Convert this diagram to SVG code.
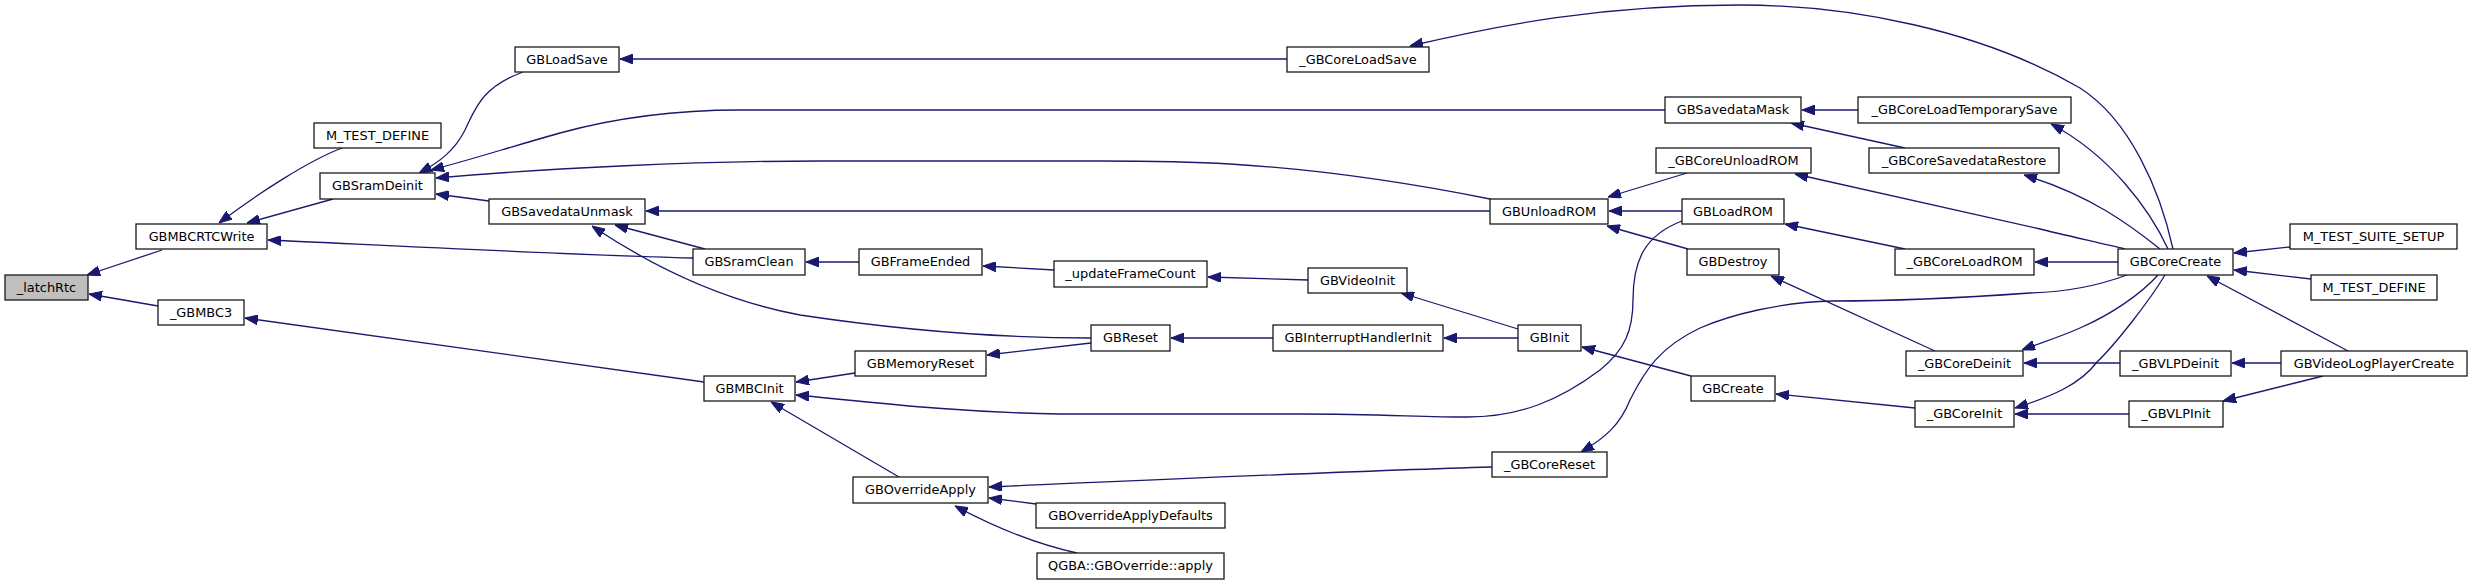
<svg xmlns="http://www.w3.org/2000/svg" width="2472" height="585" viewBox="0 0 2472 585">
<style>
.n rect{fill:#ffffff;stroke:#1a1a1a;stroke-width:1.3}
.n text{font-family:"DejaVu Sans",sans-serif;font-size:12.9px;fill:#000;text-anchor:middle}
#edges path{fill:none;stroke:#191970;stroke-width:1.3;marker-end:url(#a)}
</style>
<defs>
<marker id="a" markerWidth="13" markerHeight="10" refX="13" refY="5" orient="auto" markerUnits="userSpaceOnUse" viewBox="0 0 13 10"><path d="M0,0L13,5L0,10z" fill="#191970" stroke="#191970" stroke-width="1"/></marker>
</defs>
<rect width="2472" height="585" fill="#ffffff"/>
<g id="edges">
<path d="M162,250L87,275"/>
<path d="M158,306L89,294"/>
<path d="M342,148C310,160 260,192 219,223"/>
<path d="M333,199L247,223"/>
<path d="M693,258C600,256 420,247 268,240"/>
<path d="M523,72C480,88 475,110 465,130C455,150 440,162 419,173"/>
<path d="M1665,110L740,110C660,110 600,122 560,133C510,147 470,160 431,170"/>
<path d="M1490,199C1420,185 1330,170 1230,164C1180,161 1150,161 1100,161L820,161C700,161 550,168 436,178"/>
<path d="M489,201L436,194"/>
<path d="M1287,59L620,59"/>
<path d="M2173,249C2160,190 2130,120 2080,88C1980,30 1850,5 1740,5C1600,5 1500,25 1410,46"/>
<path d="M1490,211L646,211"/>
<path d="M705,249L615,225"/>
<path d="M1091,338C1000,338 900,330 800,315C720,300 650,265 592,226"/>
<path d="M859,262L806,262"/>
<path d="M1054,270L983,266"/>
<path d="M1308,280L1208,277"/>
<path d="M1518,329L1401,293"/>
<path d="M1687,173L1608,197"/>
<path d="M1682,211L1609,211"/>
<path d="M1688,249L1607,226"/>
<path d="M1858,110L1802,110"/>
<path d="M1905,148L1791,123"/>
<path d="M2168,249C2150,210 2110,155 2051,124"/>
<path d="M2160,249C2130,225 2090,195 2024,175"/>
<path d="M2125,249C2100,243 2060,234 2040,229L1795,174"/>
<path d="M1905,249L1785,224"/>
<path d="M1682,221C1645,235 1633,260 1633,300C1633,330 1625,350 1600,370C1560,400 1520,417 1467,417C1420,417 1380,414 1300,414L1060,414C950,412 870,402 796,395"/>
<path d="M2118,262L2035,262"/>
<path d="M1935,351L1771,276"/>
<path d="M2290,247L2234,253"/>
<path d="M2311,279L2234,270"/>
<path d="M2348,351L2207,276"/>
<path d="M2158,275C2140,295 2110,315 2080,328C2060,337 2040,343 2022,350"/>
<path d="M2120,363L2024,363"/>
<path d="M2165,275C2150,300 2115,345 2097,362C2080,385 2050,397 2015,408"/>
<path d="M2129,414L2015,414"/>
<path d="M2281,363L2232,363"/>
<path d="M2323,376L2223,401"/>
<path d="M1915,408L1776,394"/>
<path d="M1691,376L1582,347"/>
<path d="M1518,338L1444,338"/>
<path d="M1273,338L1171,338"/>
<path d="M1091,343L987,355"/>
<path d="M855,373L796,382"/>
<path d="M899,477L771,402"/>
<path d="M704,382L245,318"/>
<path d="M1492,467C1350,471 1150,480 989,487"/>
<path d="M1036,504L989,498"/>
<path d="M1077,553C1040,545 1000,530 955,506"/>
<path d="M2127,275C2100,285 2070,292 2030,293C1960,298 1880,301 1833,301C1780,302 1730,315 1700,328C1660,347 1645,370 1630,400C1620,425 1605,438 1581,452"/>
</g>
<g id="n_latchRtc" class="n"><rect x="5" y="275" width="83" height="25" style="fill:#bfbfbf"/><text x="46.5" y="291.7">_latchRtc</text></g>
<g id="n_GBMBCRTCWrite" class="n"><rect x="136" y="224" width="131" height="25"/><text x="201.5" y="240.7">GBMBCRTCWrite</text></g>
<g id="n_M_TEST_DEFINE_1" class="n"><rect x="314" y="123" width="127" height="25"/><text x="377.5" y="139.7">M_TEST_DEFINE</text></g>
<g id="n_GBSramDeinit" class="n"><rect x="320" y="173" width="115" height="26"/><text x="377.5" y="190.2">GBSramDeinit</text></g>
<g id="n_GBLoadSave" class="n"><rect x="515" y="47" width="104" height="25"/><text x="567" y="63.7">GBLoadSave</text></g>
<g id="n_GBSavedataUnmask" class="n"><rect x="489" y="199" width="156" height="25"/><text x="567" y="215.7">GBSavedataUnmask</text></g>
<g id="n_GBSramClean" class="n"><rect x="693" y="249" width="112" height="26"/><text x="749" y="266.2">GBSramClean</text></g>
<g id="n_GBFrameEnded" class="n"><rect x="859" y="249" width="123" height="26"/><text x="920.5" y="266.2">GBFrameEnded</text></g>
<g id="n_updateFrameCount" class="n"><rect x="1054" y="261" width="153" height="26"/><text x="1130.5" y="278.2">_updateFrameCount</text></g>
<g id="n_GBCoreLoadSave" class="n"><rect x="1287" y="47" width="142" height="25"/><text x="1358" y="63.7">_GBCoreLoadSave</text></g>
<g id="n_GBUnloadROM" class="n"><rect x="1490" y="199" width="118" height="25"/><text x="1549" y="215.7">GBUnloadROM</text></g>
<g id="n_GBVideoInit" class="n"><rect x="1308" y="268" width="99" height="25"/><text x="1357.5" y="284.7">GBVideoInit</text></g>
<g id="n_GBSavedataMask" class="n"><rect x="1665" y="97" width="136" height="26"/><text x="1733" y="114.2">GBSavedataMask</text></g>
<g id="n_GBCoreLoadTemporarySave" class="n"><rect x="1858" y="97" width="213" height="26"/><text x="1964.5" y="114.2">_GBCoreLoadTemporarySave</text></g>
<g id="n_GBCoreUnloadROM" class="n"><rect x="1656" y="148" width="155" height="25"/><text x="1733.5" y="164.7">_GBCoreUnloadROM</text></g>
<g id="n_GBCoreSavedataRestore" class="n"><rect x="1869" y="148" width="190" height="25"/><text x="1964" y="164.7">_GBCoreSavedataRestore</text></g>
<g id="n_GBLoadROM" class="n"><rect x="1682" y="199" width="102" height="25"/><text x="1733" y="215.7">GBLoadROM</text></g>
<g id="n_GBDestroy" class="n"><rect x="1687" y="249" width="92" height="26"/><text x="1733" y="266.2">GBDestroy</text></g>
<g id="n_GBCoreLoadROM" class="n"><rect x="1895" y="249" width="139" height="26"/><text x="1964.5" y="266.2">_GBCoreLoadROM</text></g>
<g id="n_GBCoreCreate" class="n"><rect x="2118" y="249" width="115" height="26"/><text x="2175.5" y="266.2">GBCoreCreate</text></g>
<g id="n_M_TEST_SUITE_SETUP" class="n"><rect x="2290" y="224" width="167" height="25"/><text x="2373.5" y="240.7">M_TEST_SUITE_SETUP</text></g>
<g id="n_M_TEST_DEFINE_2" class="n"><rect x="2311" y="275" width="126" height="25"/><text x="2374" y="291.7">M_TEST_DEFINE</text></g>
<g id="n_GBMBC3" class="n"><rect x="158" y="300" width="86" height="25"/><text x="201" y="316.7">_GBMBC3</text></g>
<g id="n_GBMBCInit" class="n"><rect x="704" y="376" width="91" height="25"/><text x="749.5" y="392.7">GBMBCInit</text></g>
<g id="n_GBReset" class="n"><rect x="1091" y="325" width="79" height="26"/><text x="1130.5" y="342.2">GBReset</text></g>
<g id="n_GBMemoryReset" class="n"><rect x="855" y="351" width="131" height="25"/><text x="920.5" y="367.7">GBMemoryReset</text></g>
<g id="n_GBOverrideApply" class="n"><rect x="853" y="477" width="135" height="26"/><text x="920.5" y="494.2">GBOverrideApply</text></g>
<g id="n_GBOverrideApplyDefaults" class="n"><rect x="1036" y="503" width="189" height="25"/><text x="1130.5" y="519.7">GBOverrideApplyDefaults</text></g>
<g id="n_QGBA_GBOverride_apply" class="n"><rect x="1037" y="553" width="187" height="26"/><text x="1130.5" y="570.2">QGBA::GBOverride::apply</text></g>
<g id="n_GBInterruptHandlerInit" class="n"><rect x="1273" y="325" width="170" height="26"/><text x="1358" y="342.2">GBInterruptHandlerInit</text></g>
<g id="n_GBInit" class="n"><rect x="1518" y="325" width="63" height="26"/><text x="1549.5" y="342.2">GBInit</text></g>
<g id="n_GBCoreReset" class="n"><rect x="1492" y="452" width="115" height="25"/><text x="1549.5" y="468.7">_GBCoreReset</text></g>
<g id="n_GBCreate" class="n"><rect x="1691" y="376" width="84" height="25"/><text x="1733" y="392.7">GBCreate</text></g>
<g id="n_GBCoreDeinit" class="n"><rect x="1906" y="351" width="117" height="25"/><text x="1964.5" y="367.7">_GBCoreDeinit</text></g>
<g id="n_GBCoreInit" class="n"><rect x="1915" y="401" width="99" height="26"/><text x="1964.5" y="418.2">_GBCoreInit</text></g>
<g id="n_GBVLPDeinit" class="n"><rect x="2120" y="351" width="111" height="25"/><text x="2175.5" y="367.7">_GBVLPDeinit</text></g>
<g id="n_GBVideoLogPlayerCreate" class="n"><rect x="2281" y="351" width="186" height="25"/><text x="2374" y="367.7">GBVideoLogPlayerCreate</text></g>
<g id="n_GBVLPInit" class="n"><rect x="2129" y="401" width="94" height="26"/><text x="2176" y="418.2">_GBVLPInit</text></g>
</svg>
